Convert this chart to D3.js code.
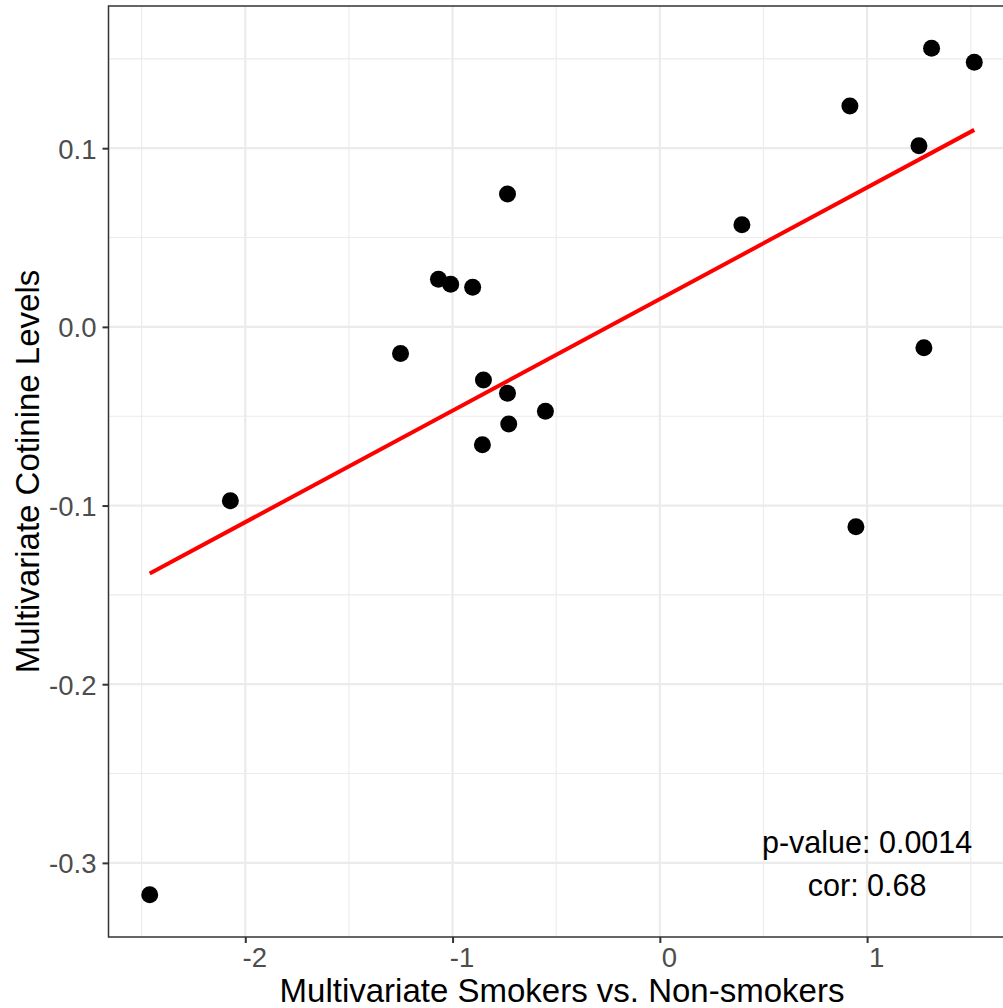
<!DOCTYPE html>
<html>
<head>
<meta charset="utf-8">
<script src="https://cdnjs.cloudflare.com/ajax/libs/d3/7.8.5/d3.min.js"></script>
<style>
  html, body { margin: 0; padding: 0; background: #ffffff; }
  svg { display: block; }
  text { font-family: "Liberation Sans", Arial, Helvetica, sans-serif; }
</style>
</head>
<body>
<svg id="chart" width="1003" height="1008"></svg>
<script>
// ---- data ----
const smokersX = [-2.461, -2.072, -1.251, -1.068, -1.009, -0.903, -0.851, -0.856, -0.735, -0.735,
                  -0.729, -0.552, 0.396, 0.917, 0.946, 1.250, 1.274, 1.311, 1.517];
const cotinineY = [-0.3178, -0.0973, -0.0149, 0.0267, 0.0239, 0.0222, -0.0298, -0.0660, 0.0744, -0.0371,
                   -0.0544, -0.0472, 0.0571, 0.1236, -0.1119, 0.1014, -0.0117, 0.1559, 0.1481];
const xTicks = [-2, -1, 0, 1];
const xMinor = [-2.5, -1.5, -0.5, 0.5, 1.5];
const yTicks = [0.1, 0.0, -0.1, -0.2, -0.3];
const yMinor = [0.15, 0.05, -0.05, -0.15, -0.25];
const xTickLabels = ["-2", "-1", "0", "1"];
const yTickLabels = ["0.1", "0.0", "-0.1", "-0.2", "-0.3"];
const annotationLines = ["p-value: 0.0014", "cor: 0.68"];
const annotationPos = [1, -0.3];
const xTitle = "Multivariate Smokers vs. Non-smokers";
const yTitle = "Multivariate Cotinine Levels";

// ---- layout ----
const svg = d3.select("#chart");
const panel = { left: 108.5, right: 1015.5, top: 6, bottom: 937 };

function expand(ext, f) { const r = ext[1] - ext[0]; return [ext[0] - r * f, ext[1] + r * f]; }
const x = d3.scaleLinear().domain(expand(d3.extent(smokersX), 0.05)).range([panel.left, panel.right]);
const y = d3.scaleLinear().domain(expand(d3.extent(cotinineY), 0.05)).range([panel.bottom, panel.top]);

const points = smokersX.map((v, i) => ({ x: v, y: cotinineY[i] }));

// clip to visible region
svg.append("defs").append("clipPath").attr("id", "pclip")
  .append("rect").attr("x", panel.left).attr("y", panel.top)
  .attr("width", panel.right - panel.left).attr("height", panel.bottom - panel.top);

const grid = svg.append("g").attr("clip-path", "url(#pclip)");
// minor grid
grid.selectAll("line.xminor").data(xMinor).enter().append("line")
  .attr("x1", d => x(d)).attr("x2", d => x(d)).attr("y1", panel.top).attr("y2", panel.bottom)
  .attr("stroke", "#ebebeb").attr("stroke-width", 1.1);
grid.selectAll("line.yminor").data(yMinor).enter().append("line")
  .attr("y1", d => y(d)).attr("y2", d => y(d)).attr("x1", panel.left).attr("x2", panel.right)
  .attr("stroke", "#ebebeb").attr("stroke-width", 1.1);
// major grid
grid.selectAll("line.xmajor").data(xTicks).enter().append("line")
  .attr("x1", d => x(d)).attr("x2", d => x(d)).attr("y1", panel.top).attr("y2", panel.bottom)
  .attr("stroke", "#ebebeb").attr("stroke-width", 2.2);
grid.selectAll("line.ymajor").data(yTicks).enter().append("line")
  .attr("y1", d => y(d)).attr("y2", d => y(d)).attr("x1", panel.left).attr("x2", panel.right)
  .attr("stroke", "#ebebeb").attr("stroke-width", 2.2);

// regression line (lm fit computed from the data)
const mx = d3.mean(smokersX), my = d3.mean(cotinineY);
let sxy = 0, sxx = 0;
points.forEach(p => { sxy += (p.x - mx) * (p.y - my); sxx += (p.x - mx) * (p.x - mx); });
const slope = sxy / sxx, intercept = my - slope * mx;
const xr = d3.extent(smokersX);
const fit = xr.map(v => ({ x: v, y: intercept + slope * v }));

const plot = svg.append("g").attr("clip-path", "url(#pclip)");
plot.selectAll("circle").data(points).enter().append("circle")
  .attr("cx", d => x(d.x)).attr("cy", d => y(d.y)).attr("r", 8.5).attr("fill", "#000000");
plot.append("path").datum(fit)
  .attr("d", d3.line().x(d => x(d.x)).y(d => y(d.y)))
  .attr("fill", "none").attr("stroke", "#ff0000").attr("stroke-width", 4);

// annotation
const ann = svg.append("text").attr("text-anchor", "middle").attr("font-size", 30.5).attr("fill", "#000000");
annotationLines.forEach((t, i) => {
  ann.append("tspan").attr("x", x(annotationPos[0])).attr("y", y(annotationPos[1]) - 10 + i * 43.4).text(t);
});

// panel border (left, top, bottom visible)
svg.append("rect").attr("x", panel.left).attr("y", panel.top)
  .attr("width", panel.right - panel.left).attr("height", panel.bottom - panel.top)
  .attr("fill", "none").attr("stroke", "#333333").attr("stroke-width", 1.5);

// axes
const xAxis = d3.axisBottom(x).tickValues(xTicks).tickSize(6).tickPadding(9)
  .tickFormat((d, i) => xTickLabels[i]);
const gx = svg.append("g").attr("transform", `translate(0,${panel.bottom})`).call(xAxis);
gx.select(".domain").remove();
gx.selectAll(".tick line").attr("stroke", "#333333").attr("stroke-width", 2);
gx.selectAll(".tick text").attr("font-size", 27.5).attr("fill", "#4d4d4d")
  .attr("font-family", "'Liberation Sans', Arial, sans-serif").attr("dx", 9).attr("dy", "0.72em").attr("y", 10);

const yAxis = d3.axisLeft(y).tickValues(yTicks).tickSize(6).tickPadding(6)
  .tickFormat((d, i) => yTickLabels[i]);
const gy = svg.append("g").attr("transform", `translate(${panel.left},0)`).call(yAxis);
gy.select(".domain").remove();
gy.selectAll(".tick line").attr("stroke", "#333333").attr("stroke-width", 2);
gy.selectAll(".tick text").attr("font-size", 27.5).attr("fill", "#4d4d4d")
  .attr("font-family", "'Liberation Sans', Arial, sans-serif").attr("x", -12).attr("dy", "0.36em");

// axis titles
svg.append("text").attr("x", (panel.left + panel.right) / 2).attr("y", 1002)
  .attr("text-anchor", "middle").attr("font-size", 33).attr("fill", "#000000").text(xTitle);
svg.append("text").attr("transform", `translate(39,${(panel.top + panel.bottom) / 2}) rotate(-90)`)
  .attr("text-anchor", "middle").attr("font-size", 33).attr("fill", "#000000").text(yTitle);
</script>
</body>
</html>
